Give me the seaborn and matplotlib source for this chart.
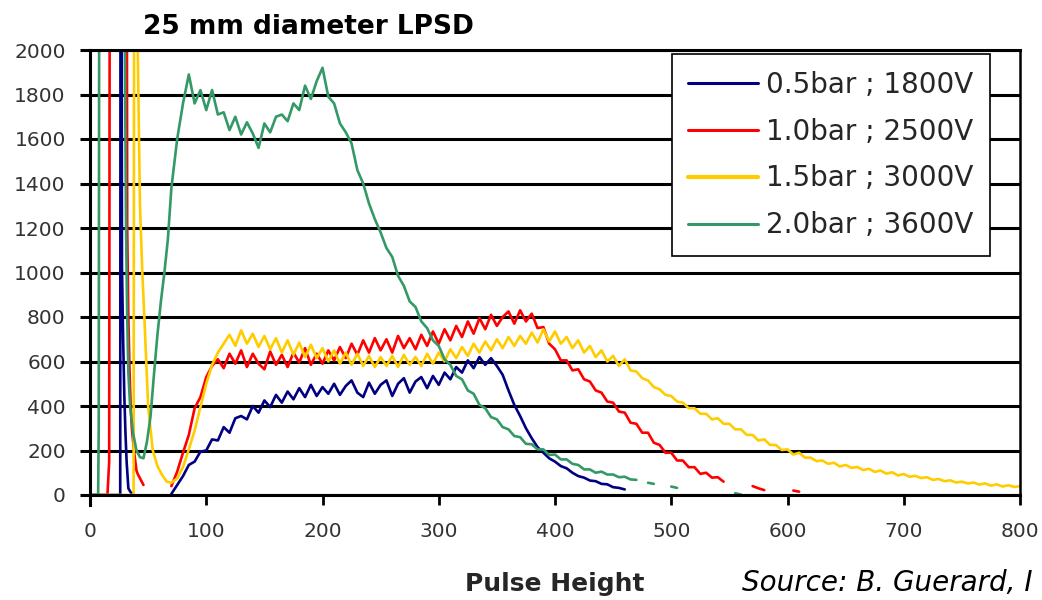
import numpy as np
import pandas as pd
import matplotlib
matplotlib.use("Agg")
import matplotlib.pyplot as plt
from matplotlib.lines import Line2D
import seaborn as sns

nan = np.nan

series_labels = ["0.5bar ; 1800V", "1.0bar ; 2500V", "1.5bar ; 3000V", "2.0bar ; 3600V"]
series_colors = ["#000080", "#FF0000", "#FFCC00", "#339966"]

x_ticks = [0, 100, 200, 300, 400, 500, 600, 700, 800]
y_ticks = [0, 200, 400, 600, 800, 1000, 1200, 1400, 1600, 1800, 2000]

# Low-channel noise peaks (fine channel positions); NaN marks a gap in the trace
head_ph_05 = [0, 26, 26.5, 27.5, 28.5, 29.5, 30.5, 31.5, 33, 35, 37, 40]
head_cnt_05 = [0, 0, 5000, 1025, 700, 450, 280, 150, 30, 12, 5, nan]

head_ph_10 = [0, 15, 16.5, 17.5, 31, 32, 33, 34, 35, 36, 38, 40, 41, 46, 50]
head_cnt_10 = [0, 0, 150, 5000, 5000, 1200, 800, 560, 400, 300, 190, 110, 95, 45, nan]

head_ph_15 = [0, 37.5, 38.5, 40.5, 43, 45, 47, 50, 54, 58, 62, 66]
head_cnt_15 = [0, 0, 5000, 2200, 1300, 1000, 770, 400, 200, 130, 90, 60]

head_ph_20 = [0, 7, 7.5, 8.5, 29, 30, 31, 32, 33, 34.5, 37, 40, 43, 46, 49,
              52, 55, 58, 61, 64, 67]
head_cnt_20 = [0, 0, 300, 5000, 5000, 2000, 1200, 800, 550, 400, 280, 200, 170, 165, 240,
               350, 540, 720, 870, 1000, 1150]

# Main spectra, counts per 5-channel step starting at channel 70
cnt_05 = [
    5, 45, 85, 135, 150, 195, 200, 250, 245, 305,            # 70-115
    280, 345, 355, 340, 400, 370, 425, 395, 450, 415,        # 120-165
    465, 430, 480, 440, 495, 445, 485, 455, 500, 450,        # 170-215
    490, 515, 460, 440, 505, 455, 495, 515, 445, 500,        # 220-265
    525, 460, 510, 530, 480, 535, 495, 550, 520, 575,        # 270-315
    550, 605, 570, 620, 585, 615, 580, 540, 470, 405,        # 320-365
    355, 300, 255, 215, 190, 165, 150, 130, 120, 100,        # 370-415
    85, 78, 65, 62, 50, 48, 35, 32, 25,                      # 420-460
]

cnt_10 = [
    40, 105, 190, 270, 390, 440, 530, 580, 610, 570,         # 70-115
    635, 590, 650, 575, 635, 590, 565, 645, 585, 630,        # 120-165
    575, 640, 595, 660, 585, 635, 590, 650, 605, 665,        # 170-215
    615, 680, 630, 695, 640, 705, 650, 700, 640, 715,        # 220-265
    660, 705, 655, 720, 670, 735, 680, 745, 695, 760,        # 270-315
    710, 780, 725, 795, 745, 810, 760, 800, 825, 770,        # 320-365
    830, 780, 815, 750, 755, 680, 655, 605, 605, 560,        # 370-415
    565, 520, 510, 470, 460, 420, 415, 375, 370, 325,        # 420-465
    320, 280, 280, 235, 225, 190, 190, 155, 155, 125,        # 470-515
    125, 95, 100, 78, 80, 60, nan, nan, nan, nan,            # 520-565
    40, 30, 22, nan, nan, nan, nan, 20, 15,                  # 570-610
]

cnt_15 = [
    55, 75, 125, 205, 290, 395, 500, 585, 640, 680,          # 70-115
    720, 670, 740, 680, 725, 665, 715, 655, 705, 640,        # 120-165
    695, 630, 685, 620, 675, 615, 660, 600, 650, 590,        # 170-215
    640, 585, 635, 580, 625, 575, 620, 580, 625, 575,        # 220-265
    630, 585, 620, 580, 635, 590, 640, 600, 655, 615,        # 270-315
    665, 625, 680, 640, 690, 650, 700, 660, 710, 670,        # 320-365
    715, 680, 730, 685, 745, 690, 735, 680, 710, 660,        # 370-415
    695, 640, 670, 620, 650, 600, 625, 580, 610, 560,        # 420-465
    555, 525, 515, 485, 475, 450, 445, 420, 415, 390,        # 470-515
    390, 365, 365, 340, 345, 320, 320, 295, 295, 270,        # 520-565
    270, 245, 250, 225, 225, 202, 205, 182, 190, 168,        # 570-615
    168, 152, 155, 140, 145, 128, 135, 122, 126, 112,        # 620-665
    118, 104, 110, 96, 102, 88, 94, 82, 86, 76,              # 670-715
    80, 68, 72, 62, 66, 56, 60, 52, 56, 47,                  # 720-765
    52, 42, 48, 38, 44, 36, 40,                              # 770-800
]

cnt_20 = [
    1380, 1600, 1760, 1890, 1760, 1820, 1730, 1820, 1710, 1720,  # 70-115
    1640, 1700, 1620, 1675, 1625, 1560, 1670, 1630, 1700, 1710,  # 120-165
    1680, 1760, 1730, 1840, 1780, 1860, 1920, 1790, 1760, 1670,  # 170-215
    1630, 1580, 1460, 1400, 1310, 1240, 1180, 1110, 1070, 985,   # 220-265
    940, 870, 845, 780, 750, 695, 670, 610, 585, 535,            # 270-315
    520, 470, 455, 405, 390, 350, 340, 305, 295, 265,            # 320-365
    260, 230, 228, 205, 205, 180, 182, 160, 160, 140,            # 370-415
    135, 115, 115, 100, 105, 92, 92, 80, 82, 70,                 # 420-465
    68, nan, 55, 50, nan, nan, 38, 32, nan, nan,                 # 470-515
    nan, nan, nan, nan, nan, nan, nan, 8, 2,                     # 520-560
]


def spectrum(head_ph, head_cnt, body_cnt, label):
    body_ph = 70 + 5 * np.arange(len(body_cnt))
    ph = np.concatenate([np.asarray(head_ph, float), body_ph])
    cnt = np.concatenate([np.asarray(head_cnt, float), np.asarray(body_cnt, float)])
    segment = np.cumsum(np.isnan(cnt))
    df = pd.DataFrame({"pulse": ph, "counts": cnt, "segment": segment})
    df["series"] = label
    return df.dropna()


frames = [
    spectrum(head_ph_05, head_cnt_05, cnt_05, series_labels[0]),
    spectrum(head_ph_10, head_cnt_10, cnt_10, series_labels[1]),
    spectrum(head_ph_15, head_cnt_15, cnt_15, series_labels[2]),
    spectrum(head_ph_20, head_cnt_20, cnt_20, series_labels[3]),
]

sns.set_theme(style="white")
plt.rcParams["font.family"] = ["DejaVu Sans"]

fig = plt.figure(figsize=(10.42, 6.0), dpi=100)
ax = fig.add_axes([90 / 1042, 1 - 495 / 600, 930 / 1042, 445 / 600])

for df, color in zip(frames, series_colors):
    sns.lineplot(data=df, x="pulse", y="counts", units="segment", estimator=None,
                 sort=False, color=color, linewidth=1.9, legend=False, ax=ax)

ax.set_xlim(0, 800)
ax.set_ylim(0, 2000)
ax.set_xticks(x_ticks)
ax.set_yticks(y_ticks)
ax.set_xticklabels([str(v) for v in x_ticks])
ax.set_yticklabels([str(v) for v in y_ticks])
ax.set_axisbelow(True)
ax.yaxis.grid(True, color="black", linewidth=2.2)
ax.xaxis.grid(False)

ax.tick_params(axis="y", direction="out", length=7.5, width=2.2, color="black",
               pad=10, labelsize=14.5, labelcolor="#333333", left=True)
ax.tick_params(axis="x", direction="out", length=7.5, width=2.0, color="black",
               pad=12, labelsize=14.5, labelcolor="#333333", bottom=True)

for side in ["left", "bottom", "top"]:
    ax.spines[side].set_color("black")
    ax.spines[side].set_linewidth(2.2)
ax.spines["right"].set_color("black")
ax.spines["right"].set_linewidth(1.8)
# the value axis runs a little below the zero line
ax.spines["left"].set_bounds(-45, 2000)
ax.spines["left"].set_clip_on(False)

ax.set_xlabel("Pulse Height", fontsize=18, fontweight="bold", labelpad=22)
ax.set_ylabel("")

handles = [Line2D([], [], color=c, linewidth=2.2 if i != 2 else 3.0)
           for i, c in enumerate(series_colors)]
leg = ax.legend(handles, series_labels, loc="upper right",
                bbox_to_anchor=(0.968, 0.991), frameon=True, fancybox=False,
                edgecolor="black", framealpha=1, fontsize=20, handlelength=2.5,
                handletextpad=0.3, labelspacing=0.68, borderpad=0.6, borderaxespad=0)
leg.get_frame().set_linewidth(1.2)

fig.text(143 / 1042, 1 - 27 / 600, "25 mm diameter LPSD", fontsize=19,
         fontweight="bold", ha="left", va="center", color="black")
fig.text(742 / 1042, 1 - 583 / 600, "Source: B. Guerard, I", fontsize=20,
         style="italic", ha="left", va="center", color="black")

fig.savefig("out.png", dpi=100, facecolor="white")
